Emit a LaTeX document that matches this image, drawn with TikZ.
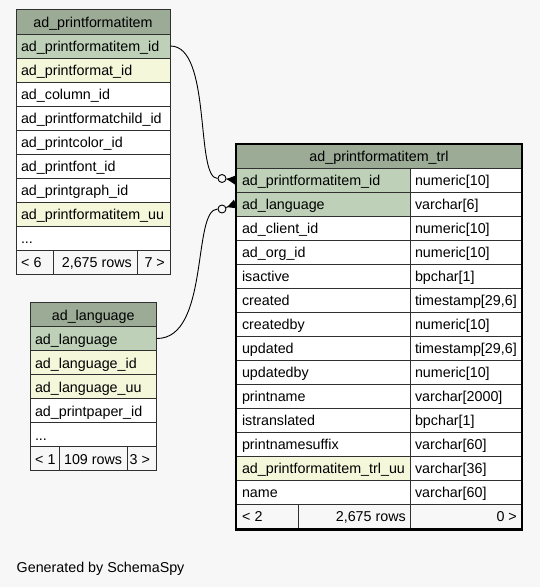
\documentclass[tikz,border=0pt]{standalone}
\usepackage{fontspec}
\setmainfont{Liberation Sans}
\usetikzlibrary{arrows.meta}
\hyphenpenalty=10000
\exhyphenpenalty=10000
\definecolor{bg}{HTML}{F7F7F7}
\definecolor{hdr}{HTML}{9BAB96}
\definecolor{pk}{HTML}{BED1B8}
\definecolor{idx}{HTML}{F4F7DA}
\definecolor{line}{HTML}{303030}
\tikzset{
  every node/.style={font=\fontsize{14.3}{16}\selectfont, text=black},
  cell/.style={draw=line, line width=0.9pt, minimum height=24pt, inner xsep=5pt, inner ysep=0pt,
    text height=11.5pt, text depth=0pt, align=left},
  hcell/.style={cell, fill=hdr, align=center},
  fcell/.style={draw=line, line width=0.9pt, fill=bg, minimum height=24pt, inner sep=0pt},
  ftxt/.style={inner sep=0pt, text height=11.5pt, text depth=0pt},
  conn/.style={draw=black, line width=0.9pt},
  crowtip/.style={-{Triangle[reversed, length=9pt, width=9pt]}},
  opencirc/.style={circle, draw=black, line width=0.9pt, fill=bg, inner sep=0pt, minimum size=8pt}
}
\begin{document}
\begin{tikzpicture}[x=1pt,y=-1pt]
\fill[bg] (0,0) rectangle (540,587);
\useasboundingbox (0,0) rectangle (540,587);

% ---------- ad_printformatitem ----------
\node[hcell, minimum height=25pt, text width=144pt] (pfi-h) at (93,21.5) {ad\_printformatitem};
\foreach \i/\t/\f in {1/ad\_printformatitem\_id/pk, 2/ad\_printformat\_id/idx, 3/ad\_column\_id/white,
  4/ad\_printformatchild\_id/white, 5/ad\_printcolor\_id/white, 6/ad\_printfont\_id/white,
  7/ad\_printgraph\_id/white, 8/ad\_printformatitem\_uu/idx}
  \node[cell, fill=\f, text width=144pt] (pfi-\i) at (93,22+24*\i) {\t};
\node[cell, fill=white, text width=144pt] (pfi-9) at (93,238) {...};
\node[fcell, minimum width=37pt] (pfi-f1) at (34.5,262) {};
\node[fcell, minimum width=84pt] (pfi-f2) at (95,262) {};
\node[fcell, minimum width=33pt] (pfi-f3) at (153.5,262) {};
\node[ftxt, anchor=west] (pfi-f1t) at (21,262) {< 6};
\node[ftxt, anchor=east] (pfi-f2t) at (132,262) {2,675 rows};
\node[ftxt, anchor=east] (pfi-f3t) at (165,262) {7 >};

% ---------- ad_language ----------
\node[hcell, minimum height=24.5pt, text width=116.5pt] (lang-h) at (93.25,314.25) {ad\_language};
\foreach \i/\t/\f in {1/ad\_language/pk, 2/ad\_language\_id/idx, 3/ad\_language\_uu/idx,
  4/ad\_printpaper\_id/white}
  \node[cell, fill=\f, text width=116.5pt] (lang-\i) at (93.25,314.5+24*\i) {\t};
\node[cell, fill=white, text width=116.5pt] (lang-5) at (93.25,434.5) {...};
\node[fcell, minimum width=29.3pt] (lang-f1) at (44.65,458.5) {};
\node[fcell, minimum width=68pt] (lang-f2) at (93.3,458.5) {};
\node[fcell, minimum width=29.2pt] (lang-f3) at (141.9,458.5) {};
\node[ftxt, anchor=west] (lang-f1t) at (35,458.5) {< 1};
\node[ftxt, anchor=east] (lang-f2t) at (122.3,458.5) {109 rows};
\node[ftxt, anchor=west] (lang-f3t) at (129.5,458.5) {3 >};

% ---------- ad_printformatitem_trl ----------
\node[hcell, minimum height=24pt, text width=276pt] (trl-h) at (379,156) {ad\_printformatitem\_trl};
\foreach \i/\t/\ty/\f in {1/ad\_printformatitem\_id/numeric[10]/pk, 2/ad\_language/varchar[6]/pk,
  3/ad\_client\_id/numeric[10]/white, 4/ad\_org\_id/numeric[10]/white, 5/isactive/bpchar[1]/white,
  6/created/{timestamp[29,6]}/white, 7/createdby/numeric[10]/white, 8/updated/{timestamp[29,6]}/white,
  9/updatedby/numeric[10]/white, 10/printname/varchar[2000]/white, 11/istranslated/bpchar[1]/white,
  12/printnamesuffix/varchar[60]/white, 13/ad\_printformatitem\_trl\_uu/varchar[36]/idx,
  14/name/varchar[60]/white}
{
  \node[cell, fill=\f, inner xsep=6pt, text width=162.5pt] (trl-\i) at (323.25,156+24*\i) {\t};
  \node[cell, fill=white, inner xsep=4.5pt, text width=102.5pt] (trl-\i t) at (466.25,156+24*\i) {\ty};
}
\node[fcell, minimum width=62pt] (trl-f1) at (267,516) {};
\node[fcell, minimum width=112.5pt] (trl-f2) at (354.25,516) {};
\node[fcell, minimum width=111.5pt] (trl-f3) at (466.25,516) {};
\node[ftxt, anchor=west] (trl-f1t) at (242,516) {< 2};
\node[ftxt, anchor=east] (trl-f2t) at (406,516) {2,675 rows};
\node[ftxt, anchor=east] (trl-f3t) at (517,516) {0 >};

% ---------- connectors ----------
\node[opencirc] (o1) at (222,178.5) {};
\node[opencirc] (o2) at (222,209) {};
\draw[conn] (pfi-1.east) .. controls (212,46) and (195,178.5) .. (o1);
\draw[conn] (lang-1.east) .. controls (210,338.5) and (192,209) .. (o2);
\draw[conn, crowtip] (o1) -- (trl-1.west);
\draw[conn, crowtip] (o2) -- (trl-2.west);

% thick outer border of the focus table
\draw[line width=2.6pt, draw=black] (235.8,143.8) rectangle (521.8,529.3);

\node[ftxt, anchor=west] (gen) at (16.5,567) {Generated by SchemaSpy};
\end{tikzpicture}
\end{document}
